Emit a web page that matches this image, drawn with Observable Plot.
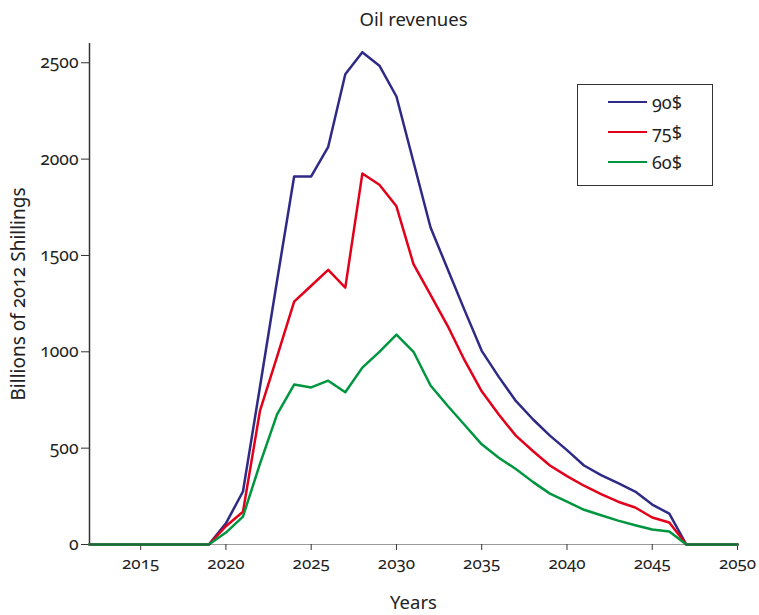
<!DOCTYPE html>
<html>
<head>
<meta charset="utf-8">
<script src="https://cdn.jsdelivr.net/npm/d3@7"></script>
<script src="https://cdn.jsdelivr.net/npm/@observablehq/plot@0.6"></script>
<style>
  body { margin: 0; background: #fff; font-family: "Noto Sans", sans-serif; font-variant-numeric: oldstyle-nums; font-feature-settings: "onum" 1; }
  #wrap { position: relative; width: 759px; height: 615px; }
  #legend { position: absolute; left: 577px; top: 84px; width: 136px; height: 102px; box-sizing: border-box; border: 1.5px solid #333; background: #fff; }
  .item { position: absolute; left: 0; height: 24px; width: 130px; }
  .swatch { position: absolute; left: 30px; top: 11px; width: 39px; height: 0; border-top: 2.5px solid; }
  .lab { position: absolute; left: 74px; top: 0; font-size: 18px; line-height: 24px; color: #222; }
</style>
</head>
<body>
<div id="wrap"><div id="legend"></div></div>
<script>
const years = [2012,2013,2014,2015,2016,2017,2018,2019,2020,2021,2022,2023,2024,2025,2026,2027,2028,2029,2030,2031,2032,2033,2034,2035,2036,2037,2038,2039,2040,2041,2042,2043,2044,2045,2046,2047,2048,2049,2050];
const rev90 = [0,0,0,0,0,0,0,0,110,275,820,1370,1910,1910,2064,2440,2555,2485,2325,1985,1645,1430,1215,1005,870,745,650,565,490,410,360,318,275,207,160,0,0,0,0];
const rev75 = [0,0,0,0,0,0,0,0,95,170,695,975,1260,1343,1425,1333,1925,1867,1755,1455,1295,1135,955,795,675,565,485,410,355,305,262,222,192,140,114,0,0,0,0];
const rev60 = [0,0,0,0,0,0,0,0,62,145,420,675,830,815,850,790,918,1000,1089,1000,825,720,620,520,450,392,325,264,223,180,152,124,100,78,67,0,0,0,0];
const seriesNames = ["90$", "75$", "60$"];
const seriesColors = ["#2e2a85", "#e3001b", "#009640"];
const xTicks = [2015,2020,2025,2030,2035,2040,2045,2050];
const yTicks = [0,500,1000,1500,2000,2500];
const title = ["Oil revenues"];
const xLabel = ["Years"];
const yLabel = ["Billions of 2012 Shillings"];

const seriesValues = [rev90, rev75, rev60];
const data = [];
seriesNames.forEach((name, s) => years.forEach((yr, i) => data.push({year: yr, value: seriesValues[s][i], series: name})));

const chart = Plot.plot({
  width: 759, height: 615,
  marginTop: 43, marginLeft: 89, marginRight: 22, marginBottom: 71,
  style: {fontFamily: "Noto Sans", fontSize: "17px", color: "#222", background: "#fff", fontVariantNumeric: "oldstyle-nums"},
  x: {domain: [2012, 2050]},
  y: {domain: [0, 2600]},
  color: {domain: seriesNames, range: seriesColors},
  marks: [
    Plot.axisX({ticks: xTicks, tickFormat: "d", tickSize: 6, tickPadding: 6, label: null, stroke: "#333", fontSize: 17}),
    Plot.axisY({ticks: yTicks, tickFormat: "d", tickSize: 8, tickPadding: 3, label: null, stroke: "#333", fontSize: 17.5}),
    Plot.ruleX([2012], {stroke: "#333", strokeWidth: 1.5}),
    Plot.line(data, {x: "year", y: "value", stroke: "series", strokeWidth: 2.5}),
    Plot.ruleY([0], {stroke: "#333", strokeWidth: 1.2, strokeOpacity: 0.5}),
    Plot.text(title, {frameAnchor: "top", lineAnchor: "middle", textAnchor: "middle", dy: -23, fontSize: 18.5, fill: "#222"}),
    Plot.text(xLabel, {frameAnchor: "bottom", lineAnchor: "middle", textAnchor: "middle", dy: 59, fontSize: 18.5, fill: "#222"}),
    Plot.text(yLabel, {frameAnchor: "left", lineAnchor: "middle", textAnchor: "middle", dx: -71, rotate: -90, fontSize: 19, fill: "#222"})
  ]
});
document.getElementById("wrap").prepend(chart);

const legend = document.getElementById("legend");
seriesNames.forEach((name, i) => {
  const item = document.createElement("div");
  item.className = "item";
  item.style.top = (5 + i * 30) + "px";
  item.innerHTML = `<span class="swatch" style="border-color:${seriesColors[i]}"></span><span class="lab">${name}</span>`;
  legend.appendChild(item);
});
</script>
</body>
</html>
